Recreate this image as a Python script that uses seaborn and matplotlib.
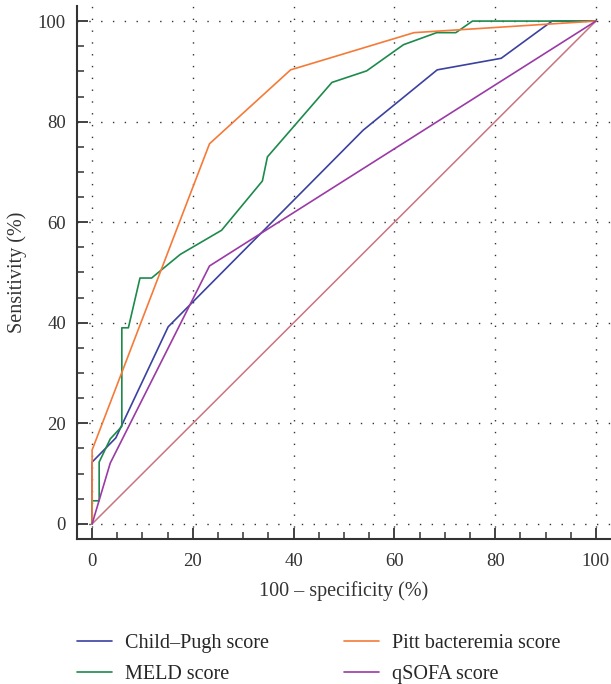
import numpy as np
import pandas as pd
import matplotlib
matplotlib.use("Agg")
import matplotlib.pyplot as plt
import seaborn as sns
from matplotlib.ticker import MultipleLocator

# ROC curves: 100 - specificity (x) vs sensitivity (y)
child_x = [0, 0, 4.7, 15.1, 53.8, 68.5, 81.2, 91.3, 100]
child_y = [0, 12.3, 17.1, 39.2, 78.3, 90.3, 92.6, 100, 100]

meld_x = [0, 0, 1.4, 1.4, 3.6, 5.9, 5.9, 7.2, 9.5, 11.8, 17.5, 25.7, 33.8, 34.8,
          47.6, 54.5, 61.8, 68.4, 72.2, 75.5, 100]
meld_y = [0, 4.6, 4.6, 12.3, 16.9, 19.4, 39.0, 39.0, 48.9, 48.9, 53.6, 58.4, 68.2, 73.0,
          87.8, 90.1, 95.3, 97.7, 97.7, 100, 100]

pitt_x = [0, 0, 23.3, 39.4, 63.9, 100]
pitt_y = [0, 14.7, 75.6, 90.3, 97.7, 100]

qsofa_x = [0, 3.6, 23.3, 100]
qsofa_y = [0, 12.1, 51.3, 100]

ref_x = [0, 100]
ref_y = [0, 100]

names = ["Child\u2013Pugh score", "MELD score", "Pitt bacteremia score", "qSOFA score"]
colors = ["#3b419f", "#1d8a4c", "#f57a38", "#9b3aa6"]

frames = []
for name, xs, ys in zip(names, [child_x, meld_x, pitt_x, qsofa_x],
                        [child_y, meld_y, pitt_y, qsofa_y]):
    frames.append(pd.DataFrame({"fpr": xs, "tpr": ys, "score": name}))
df = pd.concat(frames, ignore_index=True)

sns.set_style("white")
plt.rcParams["font.family"] = ["Liberation Serif", "DejaVu Serif"]

fig = plt.figure(figsize=(6.11, 6.84), dpi=100)
ax = fig.add_axes([77 / 611, 1 - 539 / 684, 1 - 77 / 611, 533 / 684])

ax.plot(ref_x, ref_y, color="#c8747f", lw=1.1, zorder=2)
sns.lineplot(data=df, x="fpr", y="tpr", hue="score", hue_order=names,
             palette=colors, sort=False, estimator=None, lw=1.2, ax=ax,
             legend=False, zorder=3)

ax.set_xlim(-3, 103)
ax.set_ylim(-3, 103)
ax.xaxis.set_major_locator(MultipleLocator(20))
ax.xaxis.set_minor_locator(MultipleLocator(5))
ax.yaxis.set_major_locator(MultipleLocator(20))
ax.yaxis.set_minor_locator(MultipleLocator(5))

ax.grid(True, which="major", color="#333333", lw=1.0, ls=(0, (1, 7.5)))
for side in ["top", "right"]:
    ax.spines[side].set_visible(False)
for side in ["left", "bottom"]:
    ax.spines[side].set_linewidth(1.5)
    ax.spines[side].set_color("#333333")

ax.tick_params(which="both", bottom=True, left=True, top=False, right=False)
ax.tick_params(which="major", direction="in", length=8, width=1.3,
               color="#333333", labelsize=13.5, labelcolor="#333333", pad=8)
ax.tick_params(which="minor", direction="in", length=5, width=1.1, color="#333333")
ax.tick_params(axis="x", which="major", pad=10)

ax.set_xlabel("100 \u2013 specificity (%)", fontsize=14.5, color="#333333", labelpad=8)
ax.set_ylabel("Sensitivity (%)", fontsize=14.5, color="#333333", labelpad=8)

handles = [plt.Line2D([], [], color=c, lw=1.2) for c in colors]
fig.legend(handles, names, loc="upper left", bbox_to_anchor=(0.113, 0.085),
           ncol=2, frameon=False, fontsize=14.5, handlelength=1.74,
           columnspacing=3.7, labelspacing=0.6, handletextpad=0.65,
           borderaxespad=0)

fig.savefig("out.png", dpi=100)
